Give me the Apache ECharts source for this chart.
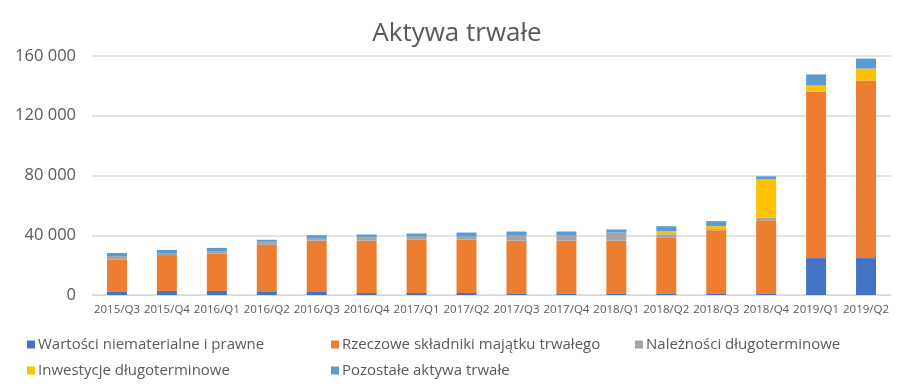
<!DOCTYPE html>
<html><head><meta charset="utf-8">
<script src="https://cdn.jsdelivr.net/npm/echarts@6/dist/echarts.min.js"></script>
<style>html,body{margin:0;padding:0;background:#fff}#c{width:914px;height:389px}</style>
</head><body><div id="c"></div>
<script>
const categories = ['2015/Q3','2015/Q4','2016/Q1','2016/Q2','2016/Q3','2016/Q4','2017/Q1','2017/Q2','2017/Q3','2017/Q4','2018/Q1','2018/Q2','2018/Q3','2018/Q4','2019/Q1','2019/Q2'];
const wartosci   = [2060, 2740, 2740, 2060, 2060, 1370, 1370, 1370, 690, 690, 690, 700, 700, 700, 24700, 24700];
const rzeczowe   = [21700, 24000, 24900, 31500, 34300, 35000, 35650, 35650, 35650, 35650, 35650, 38000, 42700, 49400, 111600, 118900];
const naleznosci = [2300, 1370, 1830, 2060, 1370, 2050, 2060, 2060, 3430, 3430, 5480, 2000, 700, 1570, 0, 0];
const inwestycje = [0, 0, 0, 0, 0, 0, 0, 0, 0, 0, 0, 2000, 2000, 25800, 4000, 8000];
const pozostale  = [2060, 2060, 2060, 1370, 2280, 2060, 2060, 2740, 2740, 2740, 2060, 3350, 3350, 2000, 7350, 6700];
const seriesNames = ['Wartości niematerialne i prawne','Rzeczowe składniki majątku trwałego','Należności długoterminowe','Inwestycje długoterminowe','Pozostałe aktywa trwałe'];
const colors = ['#4472C4','#ED7D31','#A5A5A5','#FFC000','#5B9BD5'];
const values = [wartosci, rzeczowe, naleznosci, inwestycje, pozostale];
const legendPos = [[22,332],[326,332],[630,332],[22,358],[326,358]];
const font = '"Open Sans", sans-serif';
const chart = echarts.init(document.getElementById('c'));
chart.setOption({
  animation:false,
  title:{text:'Aktywa trwałe', left:'center', top:16, textStyle:{fontFamily:font, fontSize:26, fontWeight:'normal', color:'#595959'}},
  grid:{left:92, right:23, top:56, bottom:94},
  legend: seriesNames.map((n,i)=>({data:[n], left:legendPos[i][0], top:legendPos[i][1], itemWidth:8, itemHeight:8, icon:'rect', itemGap:4,
    textStyle:{fontFamily:font, fontSize:15, color:'#595959', padding:[0,0,0,-2]}})),
  xAxis:{type:'category', data:categories,
    axisLine:{lineStyle:{color:'#D9D9D9', width:1}}, axisTick:{show:false},
    axisLabel:{fontFamily:font, fontSize:11.5, color:'#595959', margin:9, interval:0}},
  yAxis:{type:'value', min:0, max:160000, interval:40000,
    axisLine:{show:false}, axisTick:{show:false},
    splitLine:{lineStyle:{color:'#D9D9D9', width:1.5}},
    axisLabel:{fontFamily:font, fontSize:16.5, color:'#595959', margin:16,
      formatter:v=>v===0?'0':String(v).replace(/\B(?=(\d{3})+(?!\d))/g,' ')}},
  series: seriesNames.map((n,i)=>({name:n, type:'bar', stack:'a', data:values[i], barWidth:20,
    itemStyle:{color:colors[i]}}))
});
</script></body></html>
